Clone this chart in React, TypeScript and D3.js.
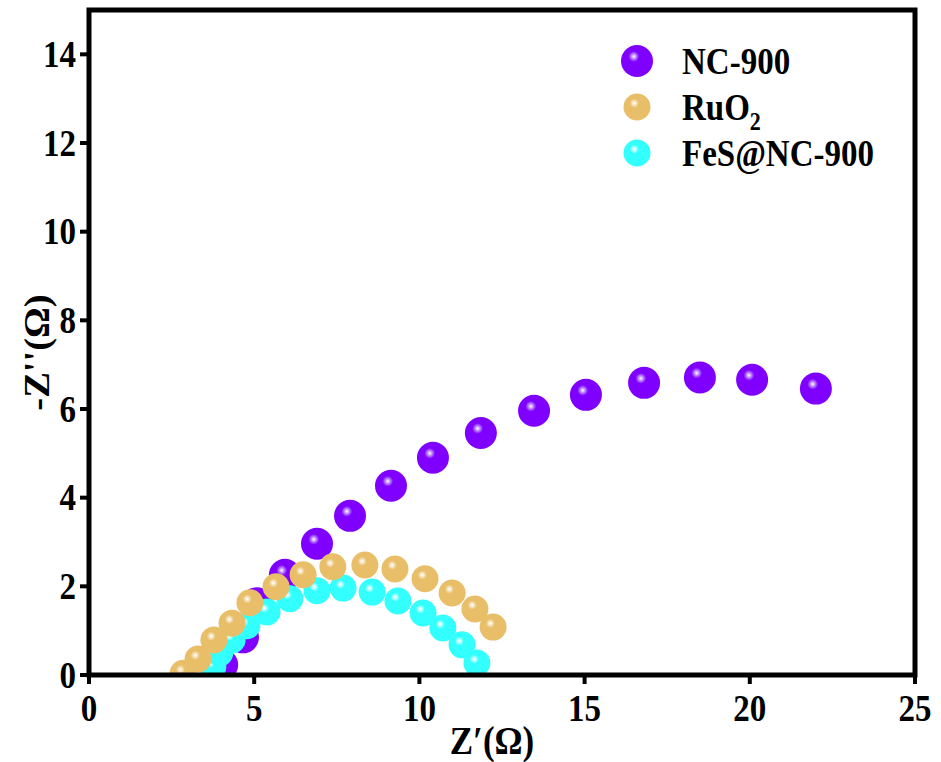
import React from 'react';
import { scaleLinear } from 'd3';

const width = 941;
const height = 762;
const margin = { top: 10, left: 89, right: 26, bottom: 87 };
const innerWidth = width - margin.left - margin.right;
const innerHeight = height - margin.top - margin.bottom;

const xTicks = [0, 5, 10, 15, 20, 25];
const yTicks = [0, 2, 4, 6, 8, 10, 12, 14];

const nc900X = [4.03, 4.66, 5.08, 5.93, 6.9, 7.9, 9.14, 10.41, 11.86, 13.47, 15.04, 16.8, 18.49, 20.07, 22.0];
const nc900Y = [0.23, 0.85, 1.62, 2.26, 2.96, 3.59, 4.27, 4.9, 5.46, 5.96, 6.32, 6.59, 6.71, 6.66, 6.46];

const ruo2X = [2.85, 3.3, 3.78, 4.33, 4.87, 5.66, 6.48, 7.38, 8.35, 9.26, 10.17, 10.99, 11.68, 12.23];
const ruo2Y = [0.04, 0.36, 0.79, 1.17, 1.63, 1.99, 2.26, 2.44, 2.48, 2.39, 2.17, 1.85, 1.49, 1.08];

const fesX = [3.75, 3.96, 4.33, 4.78, 5.39, 6.08, 6.9, 7.69, 8.57, 9.35, 10.11, 10.71, 11.29, 11.74];
const fesY = [0.18, 0.5, 0.79, 1.11, 1.42, 1.72, 1.9, 1.96, 1.87, 1.67, 1.4, 1.06, 0.68, 0.27];

// drawing order: purple behind, then cyan, yellow on top
const series = [
  { id: 'nc', label: 'NC-900', xs: nc900X, ys: nc900Y, color: '#7f00ff', glow: '#c9a0ff', r: 16 },
  { id: 'fes', label: 'FeS@NC-900', xs: fesX, ys: fesY, color: '#33ffff', glow: '#c8ffff', r: 13.5 },
  { id: 'ru', label: 'RuO2', xs: ruo2X, ys: ruo2Y, color: '#e8bf68', glow: '#f8ead0', r: 13.5 },
];
const legendOrder = ['nc', 'ru', 'fes'];

const font = '"Liberation Serif", "Times New Roman", serif';

// the original text looks a little stretched vertically
const Stretch = ({ x, y, children }: { x: number; y: number; children: React.ReactNode }) => (
  <g transform={`translate(${x},${y}) scale(1,1.13)`}>{children}</g>
);

function App() {
  const x = scaleLinear().domain([0, 25]).range([0, innerWidth]);
  const y = scaleLinear().domain([0, 15]).range([innerHeight, 0]);

  return (
    <svg width={width} height={height} style={{ position: 'absolute', left: 0, top: 0 }} fontFamily={font} fontWeight="bold">
      <defs>
        {series.map(s => (
          <radialGradient key={s.id} id={`g-${s.id}`} cx="40%" cy="36%" r="60%" fx="40%" fy="36%">
            <stop offset="0%" stopColor="#ffffff" />
            <stop offset="10%" stopColor={s.glow} />
            <stop offset="28%" stopColor={s.color} />
            <stop offset="100%" stopColor={s.color} />
          </radialGradient>
        ))}
        <clipPath id="plot">
          <rect x={0} y={0} width={innerWidth} height={innerHeight} />
        </clipPath>
      </defs>
      <rect width={width} height={height} fill="#fff" />
      <g transform={`translate(${margin.left},${margin.top})`}>
        <g clipPath="url(#plot)">
          {series.map(s =>
            s.xs.map((v, i) => (
              <circle key={`${s.id}-${i}`} cx={x(v)} cy={y(s.ys[i])} r={s.r} fill={`url(#g-${s.id})`} />
            ))
          )}
        </g>
        <rect x={0} y={0} width={innerWidth} height={innerHeight} fill="none" stroke="#000" strokeWidth={5} />
        {xTicks.map(t => (
          <g key={t} transform={`translate(${x(t)},${innerHeight})`}>
            <line y1={0} y2={9} stroke="#000" strokeWidth={4} />
            <Stretch x={0} y={46}>
              <text textAnchor="middle" fontSize={33}>{t}</text>
            </Stretch>
          </g>
        ))}
        {yTicks.map(t => (
          <g key={t} transform={`translate(0,${y(t)})`}>
            <line x1={0} x2={-9} stroke="#000" strokeWidth={4} />
            <Stretch x={-13} y={0}>
              <text dy="0.34em" textAnchor="end" fontSize={33}>{t}</text>
            </Stretch>
          </g>
        ))}
        <Stretch x={innerWidth / 2 - 10} y={innerHeight + 79}>
          <text textAnchor="middle" fontSize={35}>Z′(Ω)</text>
        </Stretch>
        <g transform={`translate(-40,${innerHeight / 2 + 10}) rotate(-90) scale(1.1,1)`}>
          <text textAnchor="middle" fontSize={35}>-Z''(Ω)</text>
        </g>
        {legendOrder.map((id, i) => {
          const s = series.find(d => d.id === id)!;
          const ly = 51 + i * 46;
          return (
            <g key={id} transform={`translate(548,${ly})`}>
              <circle cx={0} cy={0} r={s.r} fill={`url(#g-${s.id})`} />
              <Stretch x={45} y={0}>
                <text dy="0.34em" fontSize={33}>
                  {id === 'ru' ? (
                    <>RuO<tspan fontSize={22} dy={9}>2</tspan></>
                  ) : s.label}
                </text>
              </Stretch>
            </g>
          );
        })}
      </g>
    </svg>
  );
}

export default App;
